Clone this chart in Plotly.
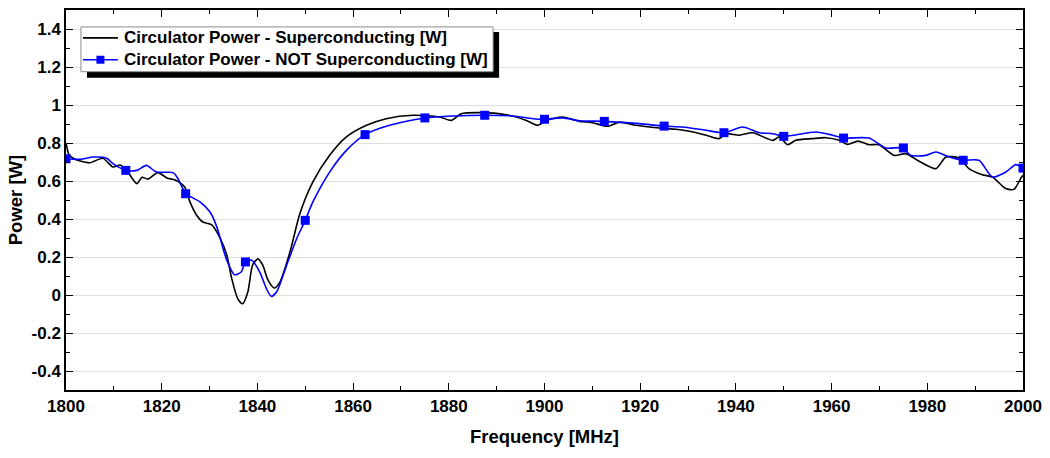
import plotly.graph_objects as go

# --- data -------------------------------------------------------------
sc_freq = [1800.0, 1800.6, 1801.5, 1803.0, 1805.0, 1807.7, 1809.8, 1811.3, 1812.9, 1814.8,
           1815.9, 1817.1, 1819.2, 1821.1, 1822.8, 1824.8, 1825.9, 1827.3, 1828.6, 1830.4,
           1832.2, 1833.6, 1834.6, 1835.9, 1836.9, 1838.0, 1839.0, 1840.1, 1841.1, 1842.2,
           1843.5, 1844.7, 1846.8, 1848.9, 1851.6, 1855.1, 1858.6, 1862.8, 1866.9, 1872.5,
           1878.1, 1880.5, 1882.6, 1886.4, 1892.0, 1896.2, 1898.6, 1900.4, 1903.8, 1907.3,
           1910.0, 1913.2, 1915.7, 1919.1, 1924.0, 1927.5, 1930.3, 1933.8, 1936.5, 1937.9,
           1940.7, 1943.5, 1947.7, 1949.1, 1950.8, 1952.5, 1956.0, 1958.8, 1961.6, 1963.3,
           1965.5, 1967.8, 1969.9, 1973.1, 1975.5, 1978.3, 1981.8, 1983.9, 1986.6, 1988.7,
           1991.5, 1993.6, 1996.4, 1998.1, 1999.7, 2000.0]
sc_power = [0.80, 0.74, 0.72, 0.705, 0.696, 0.72, 0.674, 0.684, 0.647, 0.586,
            0.62, 0.61, 0.644, 0.616, 0.605, 0.568, 0.49, 0.42, 0.384, 0.37,
            0.30, 0.21, 0.09, -0.02, -0.046, 0.016, 0.158, 0.19, 0.158, 0.079,
            0.037, 0.068, 0.226, 0.43, 0.595, 0.735, 0.832, 0.893, 0.928, 0.946,
            0.937, 0.919, 0.954, 0.96, 0.949, 0.919, 0.893, 0.919, 0.937, 0.914,
            0.907, 0.888, 0.91, 0.893, 0.879, 0.872, 0.862, 0.841, 0.823, 0.849,
            0.841, 0.854, 0.814, 0.832, 0.791, 0.814, 0.823, 0.828, 0.814, 0.793,
            0.81, 0.791, 0.791, 0.735, 0.744, 0.704, 0.665, 0.726, 0.721, 0.665,
            0.633, 0.621, 0.56, 0.556, 0.621, 0.63]

nsc_freq = [1800.0, 1802.9, 1805.7, 1808.5, 1809.9, 1812.5, 1814.8, 1816.8, 1818.9, 1822.4,
            1823.4, 1825.0, 1826.6, 1828.0, 1830.1, 1831.5, 1833.5, 1835.2, 1836.6, 1837.5,
            1838.8, 1840.5, 1841.9, 1842.9, 1844.0, 1846.1, 1848.2, 1850.0, 1851.6, 1855.1,
            1858.6, 1862.5, 1867.6, 1875.0, 1880.9, 1887.5, 1893.4, 1897.6, 1900.0, 1903.8,
            1907.3, 1912.5, 1919.8, 1925.0, 1928.9, 1933.7, 1937.5, 1941.4, 1944.9, 1947.7,
            1950.0, 1956.7, 1960.2, 1962.5, 1967.8, 1971.3, 1975.0, 1976.5, 1979.7, 1981.8,
            1984.6, 1987.5, 1990.8, 1993.6, 1996.4, 1998.5, 2000.0]
nsc_power = [0.717, 0.714, 0.726, 0.72, 0.69, 0.656, 0.656, 0.682, 0.647, 0.644,
             0.612, 0.533, 0.51, 0.49, 0.437, 0.36, 0.19, 0.107, 0.121, 0.174,
             0.183, 0.121, 0.033, -0.007, 0.016, 0.156, 0.296, 0.393, 0.49, 0.647,
             0.761, 0.844, 0.893, 0.932, 0.942, 0.946, 0.942, 0.928, 0.925, 0.932,
             0.917, 0.914, 0.902, 0.889, 0.884, 0.867, 0.854, 0.884, 0.854, 0.849,
             0.835, 0.858, 0.841, 0.826, 0.826, 0.774, 0.774, 0.735, 0.735, 0.753,
             0.726, 0.709, 0.709, 0.621, 0.647, 0.686, 0.668]

marker_freq = [1800.0, 1812.5, 1825.0, 1837.5, 1850.0, 1862.5, 1875.0, 1887.5, 1900.0,
               1912.5, 1925.0, 1937.5, 1950.0, 1962.5, 1975.0, 1987.5, 2000.0]
marker_power = [nsc_power[nsc_freq.index(f)] for f in marker_freq]

y_tickvals = [-0.4, -0.2, 0, 0.2, 0.4, 0.6, 0.8, 1.0, 1.2, 1.4]
y_ticktext = ["-0.4", "-0.2", "0", "0.2", "0.4", "0.6", "0.8", "1", "1.2", "1.4"]
x_tickvals = [1800, 1820, 1840, 1860, 1880, 1900, 1920, 1940, 1960, 1980, 2000]

name_sc = "Circulator Power - Superconducting [W]"
name_nsc = "Circulator Power - NOT Superconducting [W]"

BLUE = "#0000ff"
FONT = "Arial, Liberation Sans, sans-serif"

# plot-area geometry in pixels (used only to place the hand-drawn legend box)
W, H = 1050, 458
ML, MR, MT, MB = 66, 25, 8, 68
PW, PH = W - ML - MR, H - MT - MB


def px(x):
    return (x - ML) / PW


def py(y):
    return 1 - (y - MT) / PH


fig = go.Figure()
fig.add_trace(go.Scatter(x=sc_freq, y=sc_power, mode="lines", name=name_sc,
                         line=dict(color="black", width=1.6, shape="spline", smoothing=0.7)))
fig.add_trace(go.Scatter(x=nsc_freq, y=nsc_power, mode="lines", name=name_nsc,
                         line=dict(color=BLUE, width=1.6, shape="spline", smoothing=0.7)))
fig.add_trace(go.Scatter(x=marker_freq, y=marker_power, mode="markers", name=name_nsc,
                         marker=dict(symbol="square", size=9, color=BLUE)))

axis_common = dict(showline=True, linecolor="black", linewidth=1.5, mirror="ticks",
                   ticks="inside", ticklen=7, tickwidth=1.3, tickcolor="black",
                   zeroline=False,
                   tickfont=dict(family=FONT, size=17, color="black", weight="bold"))

fig.update_xaxes(range=[1800, 2000], tickvals=x_tickvals, showgrid=False,
                 minor=dict(ticks="inside", dtick=10, ticklen=4, tickcolor="black", tickwidth=1.2),
                 title=dict(text="Frequency [MHz]", standoff=15,
                            font=dict(family=FONT, size=18.5, color="black", weight="bold")),
                 **axis_common)
fig.update_yaxes(range=[-0.5, 1.5], tickvals=y_tickvals, ticktext=y_ticktext,
                 showgrid=True, gridcolor="#e0e0e0", gridwidth=1,
                 minor=dict(ticks="inside", tickvals=[-0.5, -0.3, -0.1, 0.1, 0.3, 0.5, 0.7, 0.9, 1.1, 1.3, 1.5],
                            ticklen=4, tickcolor="black", tickwidth=1.2, showgrid=False),
                 title=dict(text="Power [W]", standoff=4,
                            font=dict(family=FONT, size=18.5, color="black", weight="bold")),
                 **axis_common)

# legend drawn by hand: shadow, box, line samples, marker sample, labels
row1, row2 = 36, 58
shapes = [
    dict(type="rect", xref="paper", yref="paper", x0=px(87), x1=px(500), y0=py(76), y1=py(30),
         fillcolor="black", line=dict(width=0), layer="above"),
    dict(type="rect", xref="paper", yref="paper", x0=px(81), x1=px(494), y0=py(70), y1=py(25),
         fillcolor="white", line=dict(color="#8c8c8c", width=1), layer="above"),
    dict(type="line", xref="paper", yref="paper", x0=px(83), x1=px(118), y0=py(row1), y1=py(row1),
         line=dict(color="black", width=1.6), layer="above"),
    dict(type="line", xref="paper", yref="paper", x0=px(83), x1=px(118), y0=py(row2), y1=py(row2),
         line=dict(color=BLUE, width=1.6), layer="above"),
    dict(type="rect", xref="paper", yref="paper", x0=px(96.5), x1=px(104.5), y0=py(row2 + 4), y1=py(row2 - 4),
         fillcolor=BLUE, line=dict(width=0), layer="above"),
]
annotations = [
    dict(xref="paper", yref="paper", x=px(122), y=py(row1), xanchor="left", yanchor="middle",
         text=name_sc, showarrow=False,
         font=dict(family=FONT, size=17, color="black", weight="bold")),
    dict(xref="paper", yref="paper", x=px(122), y=py(row2), xanchor="left", yanchor="middle",
         text=name_nsc, showarrow=False,
         font=dict(family=FONT, size=17, color="black", weight="bold")),
]

fig.update_layout(
    width=W, height=H,
    margin=dict(l=ML, r=MR, t=MT, b=MB),
    paper_bgcolor="white", plot_bgcolor="white",
    showlegend=False,
    shapes=shapes,
    annotations=annotations,
)

fig.write_html("out.html")
